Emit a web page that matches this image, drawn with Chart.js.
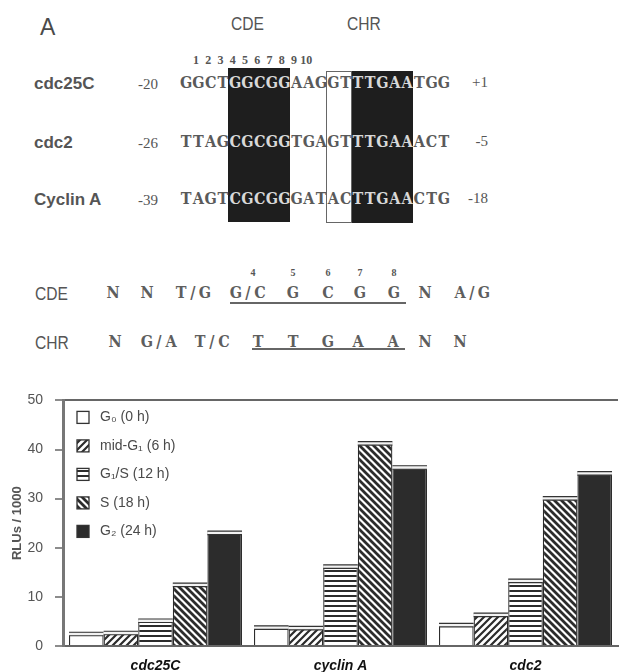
<!DOCTYPE html>
<html><head><meta charset="utf-8">
<script src="https://cdn.jsdelivr.net/npm/chart.js@4.4.1/dist/chart.umd.min.js"></script>
<style>
html,body{margin:0;padding:0;background:#fff;}
#page{position:relative;width:619px;height:672px;overflow:hidden;background:#fff;}
.t{position:absolute;white-space:pre;line-height:1;}
.bx{position:absolute;box-sizing:border-box;}
#chartWrap{position:absolute;left:0;top:380px;width:619px;height:292px;}
</style></head>
<body><div id="page"><div id="chartWrap"><canvas id="c" width="619" height="292"></canvas></div></div>
<script>
// ---------- chart data ----------
const categories = ['cdc25C', 'cyclin A', 'cdc2'];
const phaseLabels = ['G\u2080 (0 h)', 'mid-G\u2081 (6 h)', 'G\u2081/S (12 h)', 'S (18 h)', 'G\u2082 (24 h)'];
const g0Values    = [2.8, 4.1, 4.6];
const midG1Values = [3.0, 4.0, 6.7];
const g1sValues   = [5.5, 16.5, 13.6];
const sValues     = [12.8, 41.6, 30.4];
const g2Values    = [23.4, 36.7, 35.5];
const yTicks = [0, 10, 20, 30, 40, 50];
const yTitle = 'RLUs / 1000';

// ---------- sequence panel text ----------
const panelLetter = 'A';
const boxTitles = ['CDE', 'CHR'];
const genes = ['cdc25C', 'cdc2', 'Cyclin A'];
const startPos = ['-20', '-26', '-39'];
const endPos = ['+1', '-5', '-18'];
const sequences = ['GGCTGGCGGAAGGTTTGAATGG', 'TTAGCGCGGTGAGTTTGAAACT', 'TAGTCGCGGGATACTTGAACTG'];
const positionNumbers = ['1', '2', '3', '4', '5', '6', '7', '8', '9', '10'];
const consensusNames = ['CDE', 'CHR'];
const cdeConsensus = ['N', 'N', 'T/G', 'G/C', 'G', 'C', 'G', 'G', 'N', 'A/G'];
const chrConsensus = ['N', 'G/A', 'T/C', 'T', 'T', 'G', 'A', 'A', 'N', 'N'];
const cdeCoreNumbers = ['4', '5', '6', '7', '8'];

// ---------- build sequence panel (HTML text) ----------
const page = document.getElementById('page');
const SANS = '"Liberation Sans", Arial, sans-serif';
const SLAB = '"DejaVu Serif Condensed", "DejaVu Serif", serif';
const SERIF = '"Liberation Serif", "Times New Roman", serif';
function txt(s, x, cy, o) {
  const d = document.createElement('div');
  d.className = 't';
  d.textContent = s;
  const size = o.size;
  d.style.fontFamily = o.family;
  d.style.fontSize = size + 'px';
  d.style.fontWeight = o.weight || 'normal';
  if (o.stretch) d.style.fontStretch = o.stretch;
  d.style.color = o.color || '#555';
  d.style.top = (cy - size * 0.49) + 'px';
  let tr = '';
  if (o.align === 'center') { d.style.left = x + 'px'; tr += 'translateX(-50%) '; }
  else if (o.align === 'right') { d.style.right = (619 - x) + 'px'; }
  else { d.style.left = x + 'px'; }
  if (o.sx) { tr += 'scaleX(' + o.sx + ')'; d.style.transformOrigin = o.align === 'center' ? '50% 50%' : '0 50%'; }
  if (tr) d.style.transform = tr;
  page.appendChild(d);
  return d;
}
function box(l, t, w, h, bg, border) {
  const d = document.createElement('div');
  d.className = 'bx';
  d.style.left = l + 'px'; d.style.top = t + 'px';
  d.style.width = w + 'px'; d.style.height = h + 'px';
  d.style.background = bg;
  if (border) d.style.border = border;
  page.appendChild(d);
}
const slabOpts = (color, size) => ({size: size, family: SLAB, weight: 'bold', stretch: 'condensed', color: color, align: 'center'});
const seqX0 = 180, cw = 12.27;
// boxes behind sequences
box(seqX0 + 4 * cw - 1, 68, 5 * cw + 1, 154, '#1e1e1e');
box(seqX0 + 12 * cw - 1, 71, 2 * cw + 1, 152, '#fff', '1.5px solid #666');
box(seqX0 + 14 * cw, 71, 5 * cw, 152, '#1e1e1e');

txt(panelLetter, 40, 27, {size: 23, family: SANS, color: '#4a4a4a'});
txt(boxTitles[0], 231, 23, {size: 19, family: SANS, color: '#555', sx: 0.82});
txt(boxTitles[1], 347, 23, {size: 19, family: SANS, color: '#555', sx: 0.82});
positionNumbers.forEach((n, i) => {
  txt(n, seqX0 + (i + 1.5) * cw - 2.5, 60, {size: 12, family: SERIF, weight: 'bold', color: '#555', align: 'center'});
});
const rowY = [83, 142, 199];
genes.forEach((g, r) => {
  txt(g, 34, rowY[r], {size: 17, family: SANS, weight: 'bold', color: '#555'});
  txt(startPos[r], 158, rowY[r] + 1, {size: 15, family: SERIF, color: '#555', align: 'right'});
  txt(endPos[r], 488, rowY[r] - 1, {size: 15, family: SERIF, color: '#555', align: 'right'});
  const seq = sequences[r];
  for (let i = 0; i < seq.length; i++) {
    const inBlack = (i >= 4 && i <= 8) || (i >= 14 && i <= 18);
    txt(seq[i], seqX0 + (i + 0.5) * cw, rowY[r], slabOpts(inBlack ? '#d8d8d8' : '#5a5a5a', 16));
  }
});
// consensus rows (each character on a fixed pitch, centred on the token position)
const cdeX = [113, 147, 193, 248, 293, 328, 360, 394, 425, 472];
const chrX = [115, 159, 212, 258, 293, 328, 358, 393, 425, 460];
function token(s, cx, cy) {
  const pitch = 12;
  for (let j = 0; j < s.length; j++) {
    txt(s[j], cx + (j - (s.length - 1) / 2) * pitch, cy, slabOpts('#5e5e5e', 16));
  }
}
txt(consensusNames[0], 35, 293, {size: 19, family: SANS, color: '#555', sx: 0.82});
txt(consensusNames[1], 35, 342, {size: 19, family: SANS, color: '#555', sx: 0.82});
cdeConsensus.forEach((s, i) => token(s, cdeX[i], 293));
chrConsensus.forEach((s, i) => token(s, chrX[i], 342));
cdeCoreNumbers.forEach((s, i) => txt(s, cdeX[i + 3] + (i === 0 ? 5 : 0), 273, {size: 10, family: SERIF, weight: 'bold', color: '#555', align: 'center'}));
box(230, 302, 176, 2, '#666');
box(252, 348, 153, 2, '#666');

// ---------- bar chart ----------
const canvas = document.getElementById('c');
const cctx = canvas.getContext('2d');
const INK = '#2c2c2c';
function makePattern(type) {
  const s = type === 'h' ? 5 : 7;
  const c = document.createElement('canvas');
  c.width = s; c.height = s;
  const g = c.getContext('2d');
  g.fillStyle = '#fff'; g.fillRect(0, 0, s, s);
  if (type === 'h') {
    g.fillStyle = INK; g.fillRect(0, 0, s, 2);
  } else {
    g.strokeStyle = INK;
    g.lineWidth = type === 'b' ? 2.8 : 2.2;
    g.beginPath();
    for (let k = -1; k <= 1; k++) {
      if (type === 'f') { g.moveTo(k * s - 1, s + 1); g.lineTo(k * s + s + 1, -1); }
      else { g.moveTo(k * s - 1, -1); g.lineTo(k * s + s + 1, s + 1); }
    }
    g.stroke();
  }
  return cctx.createPattern(c, 'repeat');
}
const fills = ['#ffffff', makePattern('f'), makePattern('h'), makePattern('b'), INK];
const seriesValues = [g0Values, midG1Values, g1sValues, sValues, g2Values];

const capPlugin = {
  id: 'caps',
  afterDatasetsDraw(chart) {
    const ctx = chart.ctx;
    chart.data.datasets.forEach((ds, i) => {
      chart.getDatasetMeta(i).data.forEach(bar => {
        const p = bar.getProps(['x', 'y', 'width'], true);
        const l = p.x - p.width / 2, r = p.x + p.width / 2;
        ctx.save();
        ctx.fillStyle = '#f2f2f2';
        ctx.fillRect(l, p.y, p.width, 3.5);
        ctx.strokeStyle = '#333';
        ctx.lineWidth = 1.2;
        ctx.beginPath();
        ctx.moveTo(l, p.y); ctx.lineTo(r, p.y);
        ctx.moveTo(l, p.y + 3.5); ctx.lineTo(r, p.y + 3.5);
        ctx.stroke();
        ctx.restore();
      });
    });
  }
};
const legendPlugin = {
  id: 'insideLegend',
  afterDraw(chart) {
    const ctx = chart.ctx;
    const x0 = chart.chartArea.left + 14;
    const y0 = chart.chartArea.top + 17;
    chart.data.datasets.forEach((ds, i) => {
      const cy = y0 + i * 28.5;
      ctx.save();
      ctx.fillStyle = ds.backgroundColor;
      ctx.fillRect(x0, cy - 6, 12, 12);
      ctx.strokeStyle = '#333';
      ctx.lineWidth = 1.3;
      ctx.strokeRect(x0, cy - 6, 12, 12);
      ctx.fillStyle = '#4a4a4a';
      ctx.font = '14px "Liberation Sans", "DejaVu Sans", Arial, sans-serif';
      ctx.textBaseline = 'middle';
      ctx.fillText(ds.label, x0 + 23, cy);
      ctx.restore();
    });
  }
};

new Chart(canvas, {
  type: 'bar',
  data: {
    labels: categories,
    datasets: phaseLabels.map((lab, i) => ({
      label: lab,
      data: seriesValues[i],
      backgroundColor: fills[i],
      borderColor: '#2a2a2a',
      borderWidth: 1.3,
      borderSkipped: 'bottom',
      categoryPercentage: 0.935,
      barPercentage: 1
    }))
  },
  options: {
    responsive: false,
    animation: false,
    layout: {padding: {top: 18, right: 1, left: 0, bottom: 0}},
    plugins: {legend: {display: false}, tooltip: {enabled: false}},
    scales: {
      x: {
        grid: {display: false, drawTicks: false},
        border: {color: '#666', width: 2},
        ticks: {color: '#111', padding: 12, font: {family: '"Liberation Sans", Arial, sans-serif', size: 14, weight: 'bold', style: 'italic'}},
        afterFit(s) { s.height = 26; }
      },
      y: {
        min: 0, max: 50,
        afterBuildTicks(s) { s.ticks = yTicks.map(v => ({value: v})); },
        grid: {
          color: c => (c.tick && c.tick.value === 50) ? '#666' : 'rgba(0,0,0,0)',
          lineWidth: 2,
          tickColor: '#666',
          tickLength: 8,
          tickWidth: 1.5
        },
        border: {color: '#777', width: 3},
        ticks: {color: '#555', padding: 12, font: {family: '"Liberation Sans", Arial, sans-serif', size: 14}},
        title: {display: true, text: yTitle, color: '#555', padding: {top: 10, bottom: 0}, font: {family: '"Liberation Sans", Arial, sans-serif', size: 13, weight: 'bold'}},
        afterFit(s) { s.width = 63; }
      }
    }
  },
  plugins: [capPlugin, legendPlugin]
});
</script>
</body></html>
